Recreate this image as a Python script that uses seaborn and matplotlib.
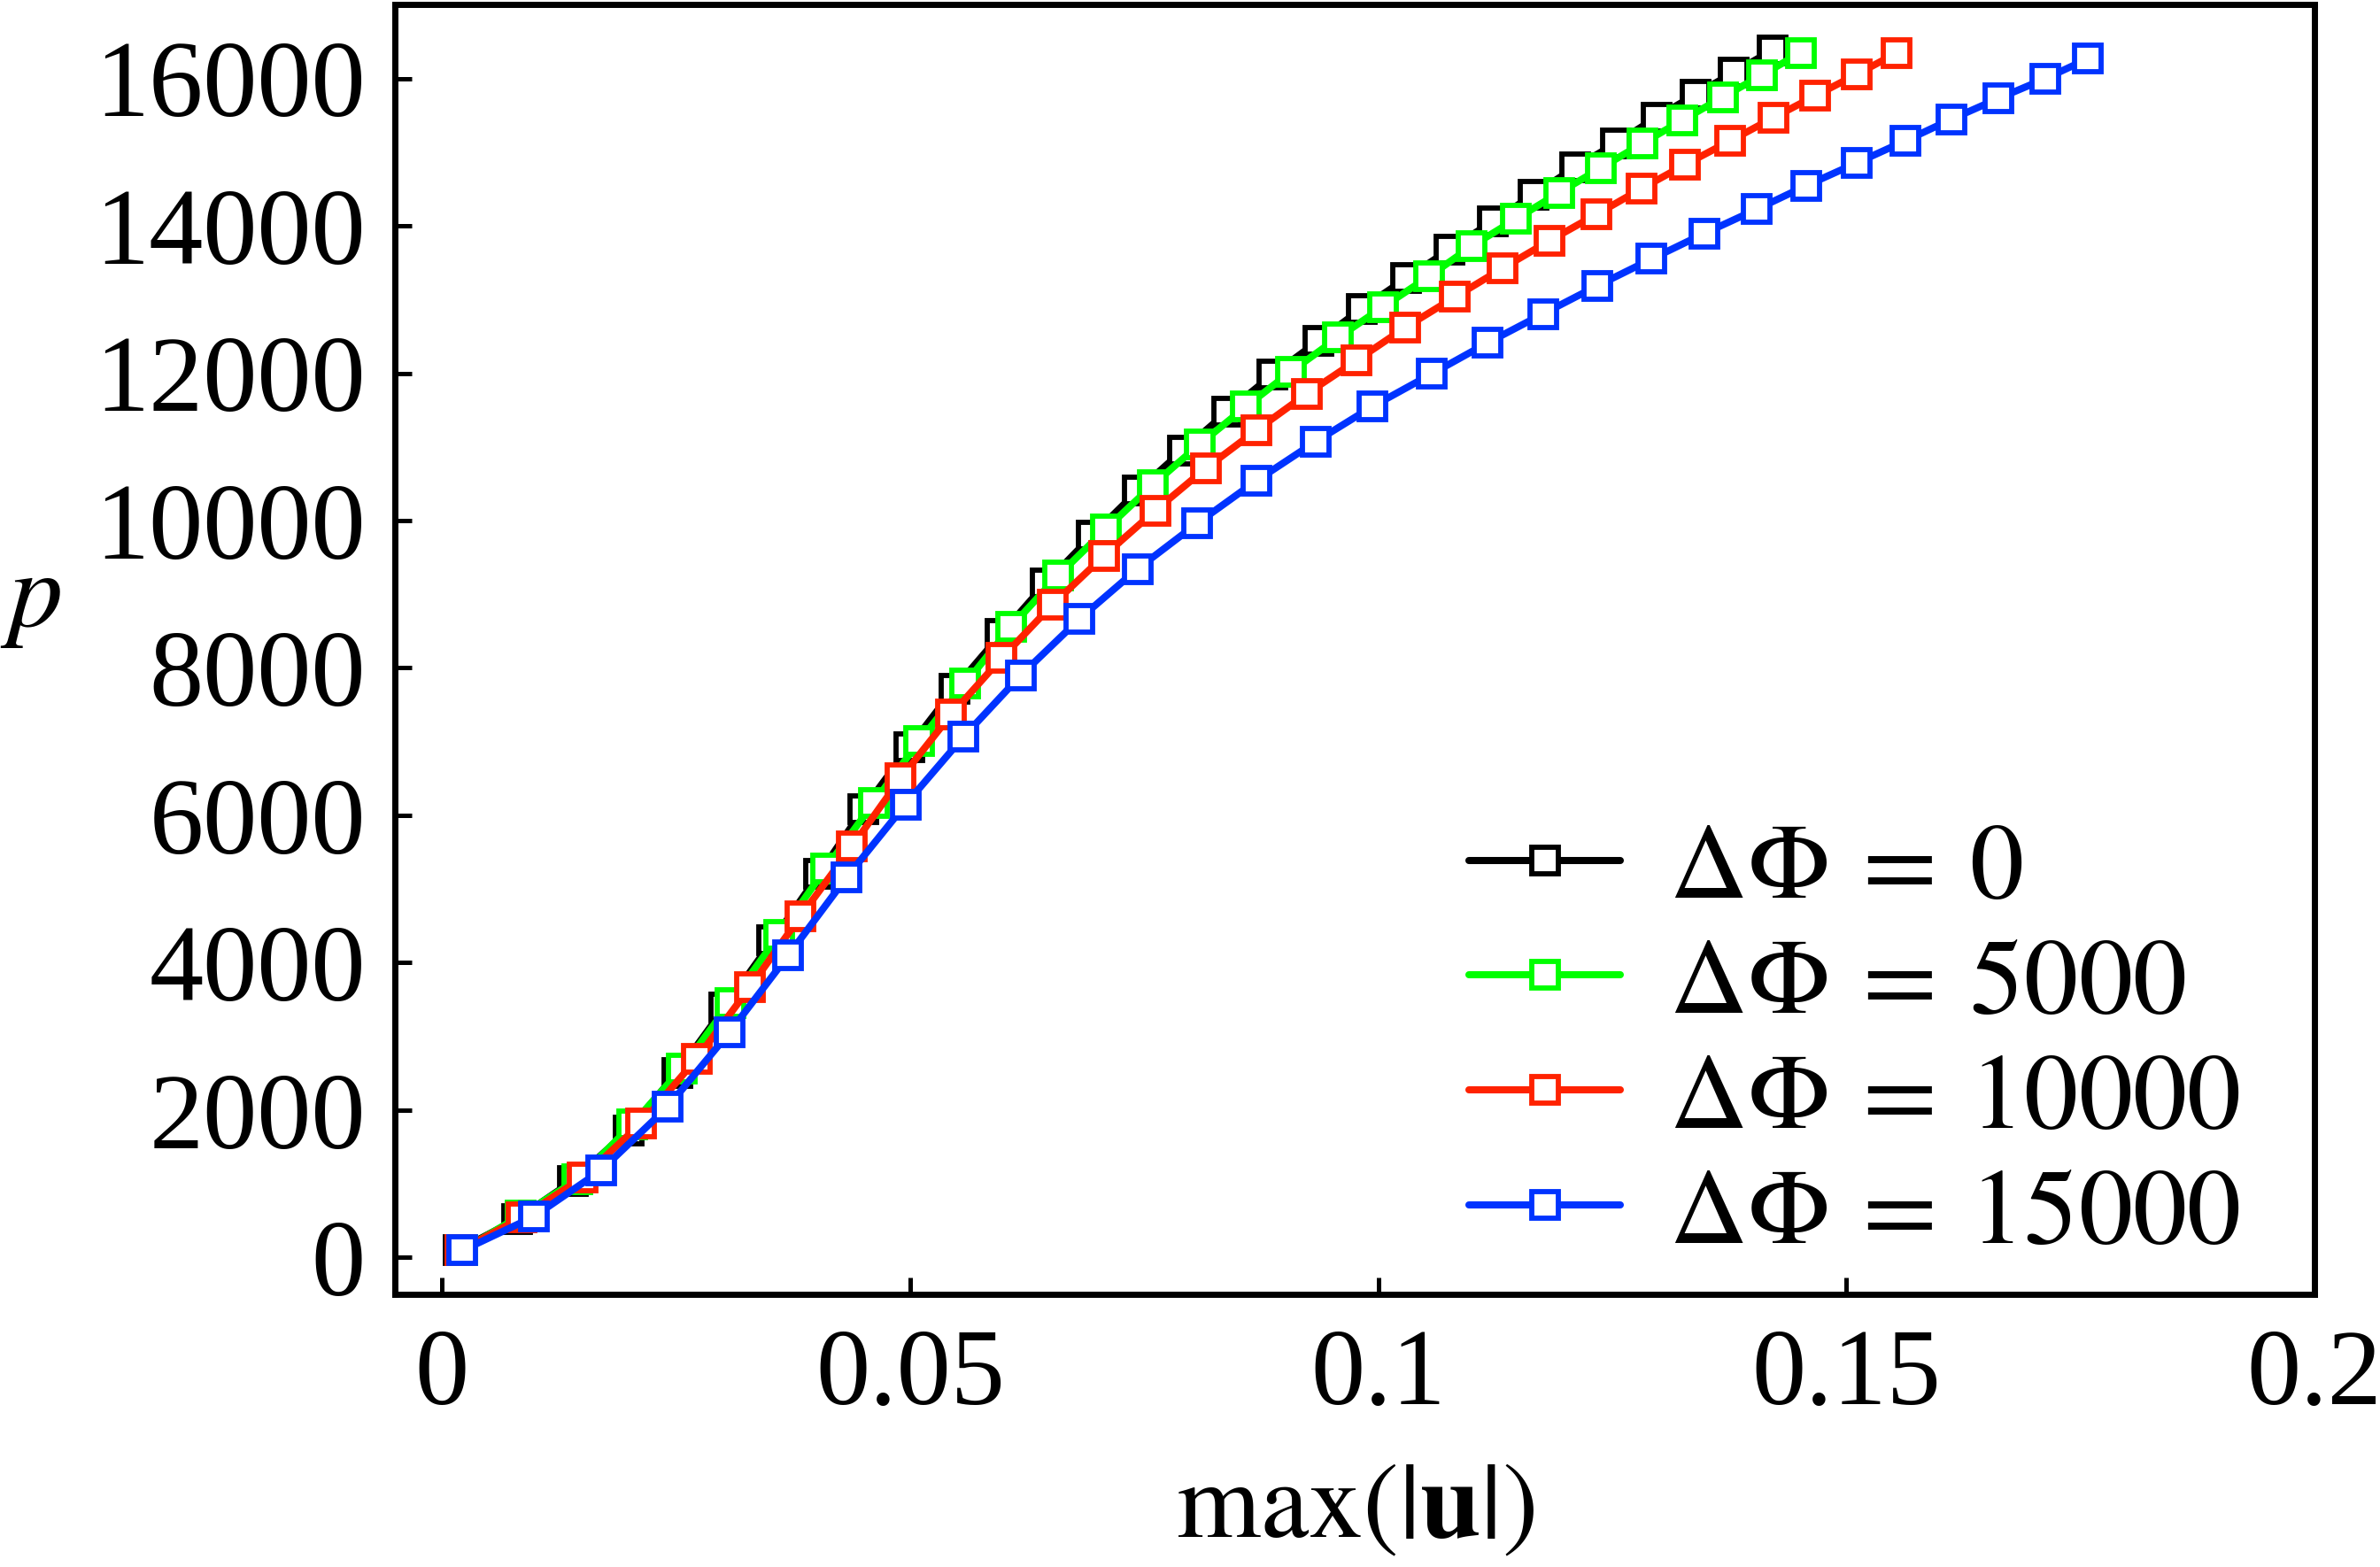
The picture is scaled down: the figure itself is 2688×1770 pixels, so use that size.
import matplotlib as mpl
mpl.use('Agg')
import matplotlib.pyplot as plt
import seaborn as sns
import numpy as np
import pandas as pd

sns.set_style('white')
mpl.rcParams['font.family'] = ['Liberation Serif', 'DejaVu Serif']
mpl.rcParams['mathtext.fontset'] = 'stix'
mpl.rcParams['text.color'] = 'black'
mpl.rcParams['xtick.color'] = 'black'
mpl.rcParams['ytick.color'] = 'black'
mpl.rcParams['axes.labelcolor'] = 'black'

#%% data
labels = [r'$\Delta\Phi\:=\:0$', r'$\Delta\Phi\:=\:5000$', r'$\Delta\Phi\:=\:10000$', r'$\Delta\Phi\:=\:15000$']
colors = ['#000000', '#00ff00', '#ff2200', '#0033ff']

u_0 = [0.0018, 0.0080, 0.0140, 0.0199, 0.0251, 0.0302, 0.0353, 0.0403, 0.0450, 0.0499,
       0.0547, 0.0597, 0.0645, 0.0694, 0.0743, 0.0791, 0.0839, 0.0887, 0.0936, 0.0982,
       0.1030, 0.1076, 0.1122, 0.1166, 0.1210, 0.1254, 0.1297, 0.1339, 0.1380, 0.1421]
p_0 = [100, 520, 1042, 1723, 2504, 3393, 4300, 5206, 6083, 6922,
       7715, 8457, 9150, 9791, 10403, 10950, 11479, 11977, 12436, 12873,
       13287, 13678, 14056, 14424, 14790, 15121, 15470, 15783, 16083, 16383]

u_5000 = [0.0022, 0.0084, 0.0145, 0.0203, 0.0256, 0.0308, 0.0360, 0.0410, 0.0461, 0.0510,
          0.0559, 0.0608, 0.0658, 0.0709, 0.0759, 0.0809, 0.0859, 0.0907, 0.0957, 0.1005,
          0.1054, 0.1100, 0.1147, 0.1193, 0.1238, 0.1282, 0.1325, 0.1368, 0.1410, 0.1451]
p_5000 = [100, 569, 1061, 1803, 2564, 3458, 4375, 5282, 6168, 7010,
          7790, 8561, 9252, 9883, 10481, 11033, 11549, 12023, 12483, 12897,
          13311, 13725, 14091, 14448, 14785, 15118, 15433, 15746, 16047, 16347]

u_10000 = [0.0020, 0.0085, 0.0150, 0.0213, 0.0272, 0.0329, 0.0383, 0.0438, 0.0490, 0.0544,
           0.0598, 0.0652, 0.0707, 0.0762, 0.0816, 0.0870, 0.0924, 0.0977, 0.1029, 0.1082,
           0.1133, 0.1183, 0.1233, 0.1281, 0.1328, 0.1376, 0.1422, 0.1467, 0.1511, 0.1554]
p_10000 = [100, 541, 1082, 1823, 2696, 3667, 4629, 5577, 6504, 7370,
           8136, 8857, 9520, 10137, 10711, 11227, 11723, 12174, 12621, 13034,
           13425, 13798, 14154, 14503, 14832, 15153, 15466, 15766, 16055, 16347]

u_15000 = [0.0022, 0.0098, 0.0170, 0.0241, 0.0307, 0.0370, 0.0432, 0.0495, 0.0557, 0.0618,
           0.0681, 0.0743, 0.0807, 0.0870, 0.0933, 0.0994, 0.1057, 0.1117, 0.1176, 0.1234,
           0.1292, 0.1348, 0.1404, 0.1457, 0.1511, 0.1563, 0.1612, 0.1662, 0.1712, 0.1758]
p_15000 = [96, 553, 1182, 2043, 3053, 4101, 5155, 6146, 7065, 7896,
           8666, 9345, 9965, 10541, 11070, 11549, 11990, 12413, 12805, 13186,
           13550, 13895, 14223, 14544, 14853, 15153, 15445, 15726, 15995, 16267]

x_ticks = [0, 0.05, 0.1, 0.15, 0.2]
x_ticklabels = ['0', '0.05', '0.1', '0.15', '0.2']
y_ticks = [0, 2000, 4000, 6000, 8000, 10000, 12000, 14000, 16000]

series = [(u_0, p_0), (u_5000, p_5000), (u_10000, p_10000), (u_15000, p_15000)]

#%%
fig = plt.figure(figsize=(13.44, 8.85), dpi=200)
ax = fig.add_axes([0.166, 0.174, 0.8065, 0.823])

for (u, p), lab, c in zip(series, labels, colors):
    df = pd.DataFrame({'u': u, 'p': p})
    sns.lineplot(data=df, x='u', y='p', sort=False, ax=ax, color=c, label=lab,
                 linewidth=2.9, marker='s', markersize=10.5,
                 markerfacecolor='white', markeredgecolor=c, markeredgewidth=2.1)

ax.set_xlim(-0.005, 0.2)
ax.set_ylim(-500, 17000)
ax.set_xticks(x_ticks)
ax.set_xticklabels(x_ticklabels)
ax.set_yticks(y_ticks)

for s in ax.spines.values():
    s.set_linewidth(2.5)
    s.set_color('black')

ax.tick_params(axis='both', direction='in', length=7, width=1.8, labelsize=44,
               bottom=True, left=True, top=False, right=False)
ax.tick_params(axis='x', pad=14)
ax.tick_params(axis='y', pad=12)

ax.set_xlabel(r'$\max\left(|\mathbf{u}|\right)$', fontsize=44)
ax.set_ylabel(r'$p$', fontsize=44, rotation=0)
ax.xaxis.set_label_coords(0.5, -0.13)
ax.yaxis.set_label_coords(-0.19, 0.50)

ax.legend(loc='lower right', bbox_to_anchor=(0.961, 0.022), frameon=False,
          fontsize=44, handlelength=1.4, handletextpad=0.45, labelspacing=0.15,
          borderaxespad=0, borderpad=0)

fig.savefig('out.png', dpi=200)
